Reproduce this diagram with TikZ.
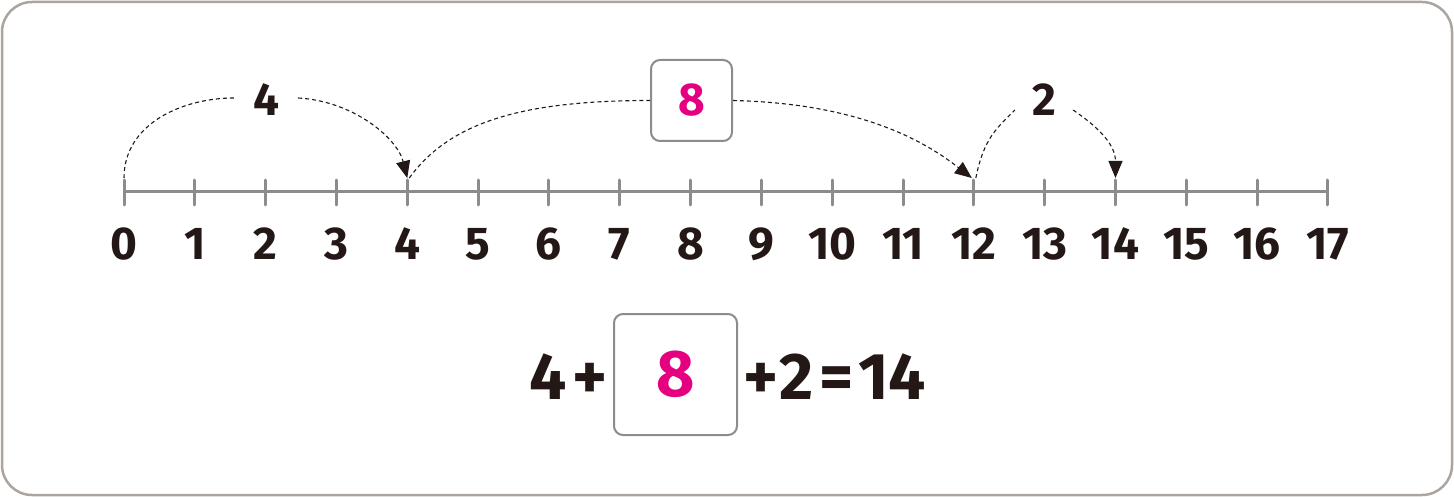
\documentclass[tikz,border=0pt]{standalone}
\usepackage{fontspec}
\setmainfont{Fira Sans}
\usetikzlibrary{arrows.meta}
\definecolor{frame}{HTML}{ABA49F}
\definecolor{axis}{HTML}{8C8C8C}
\definecolor{ink}{HTML}{231815}
\definecolor{mag}{HTML}{E4007F}
\tikzset{
  jump/.style={ink, line width=1.1pt, dash pattern=on 4pt off 3pt},
  jumparrow/.style={jump, -{Triangle[length=17pt,width=14pt]}},
  ticklabel/.style={font=\fontsize{46}{46}\selectfont\bfseries, text=ink, anchor=base, inner sep=0pt},
  jumplabel/.style={font=\fontsize{46}{46}\selectfont\bfseries, text=ink, inner ysep=0pt, inner xsep=19pt},
  eqtext/.style={font=\fontsize{66}{66}\selectfont\bfseries, text=ink, anchor=base, inner sep=0pt},
  answerbox/.style={draw=axis, line width=2pt, rounded corners=9pt, fill=white, text=mag},
}
\begin{document}
\begin{tikzpicture}[x=1pt,y=-1pt]
\useasboundingbox (0,0) rectangle (1454,497);
\draw[frame, line width=2.5pt, rounded corners=30pt] (2,2) rectangle (1452,495);
% axis
\draw[axis, line width=3pt] (124,192) -- (1328,192);
\foreach \i in {0,...,17}{
  \pgfmathsetmacro{\xx}{124+70.82*\i}
  \draw[axis, line width=3pt, line cap=round] (\xx,180) -- (\xx,205);
  \coordinate (t\i) at (\xx,178);
  \node[ticklabel] (n\i) at (\xx,260) {\i};
}
% jump labels
\node[jumplabel] (l4) at (266,100) {4};
\node[answerbox, font=\fontsize{46}{46}\selectfont\bfseries, minimum width=81pt, minimum height=81pt, inner sep=0pt] (b1) at (691.5,100.5) {8};
\node[jumplabel] (l2) at (1044,100) {2};
% jumps
\draw[jump] (t0) .. controls +(0,-55) and +(-50,0) .. ([yshift=2pt]l4.west);
\draw[jumparrow] ([yshift=2pt]l4.east) .. controls +(55,3) and +(-10,-40) .. (t4);
\draw[jump] ([xshift=2pt]t4) .. controls +(40,-55) and +(-130,0) .. (b1.west);
\draw[jumparrow] (b1.east) .. controls +(130,3) and +(-45,-35) .. ([xshift=-2pt]t12);
\draw[jump] ([xshift=2pt]t12) .. controls +(8,-40) and +(-18,18) .. ([yshift=-10pt,xshift=2pt]l2.west);
\draw[jumparrow] ([yshift=-10pt,xshift=-2pt]l2.east) .. controls +(22,15) and +(0,-35) .. (t14);
% equation
\node[eqtext] (e1) at (548,399) {4};
\node[eqtext] (e2) at (590,399) {+};
\node[answerbox, font=\fontsize{66}{66}\selectfont\bfseries, minimum width=123pt, minimum height=121pt, inner sep=0pt] (b2) at (675.5,374.5) {8};
\node[eqtext] (e3) at (761,399) {+};
\node[eqtext] (e4) at (797,399) {2};
\node[eqtext] (e5) at (837,399) {=};
\node[eqtext] (e6) at (892,399) {14};
\end{tikzpicture}
\end{document}
